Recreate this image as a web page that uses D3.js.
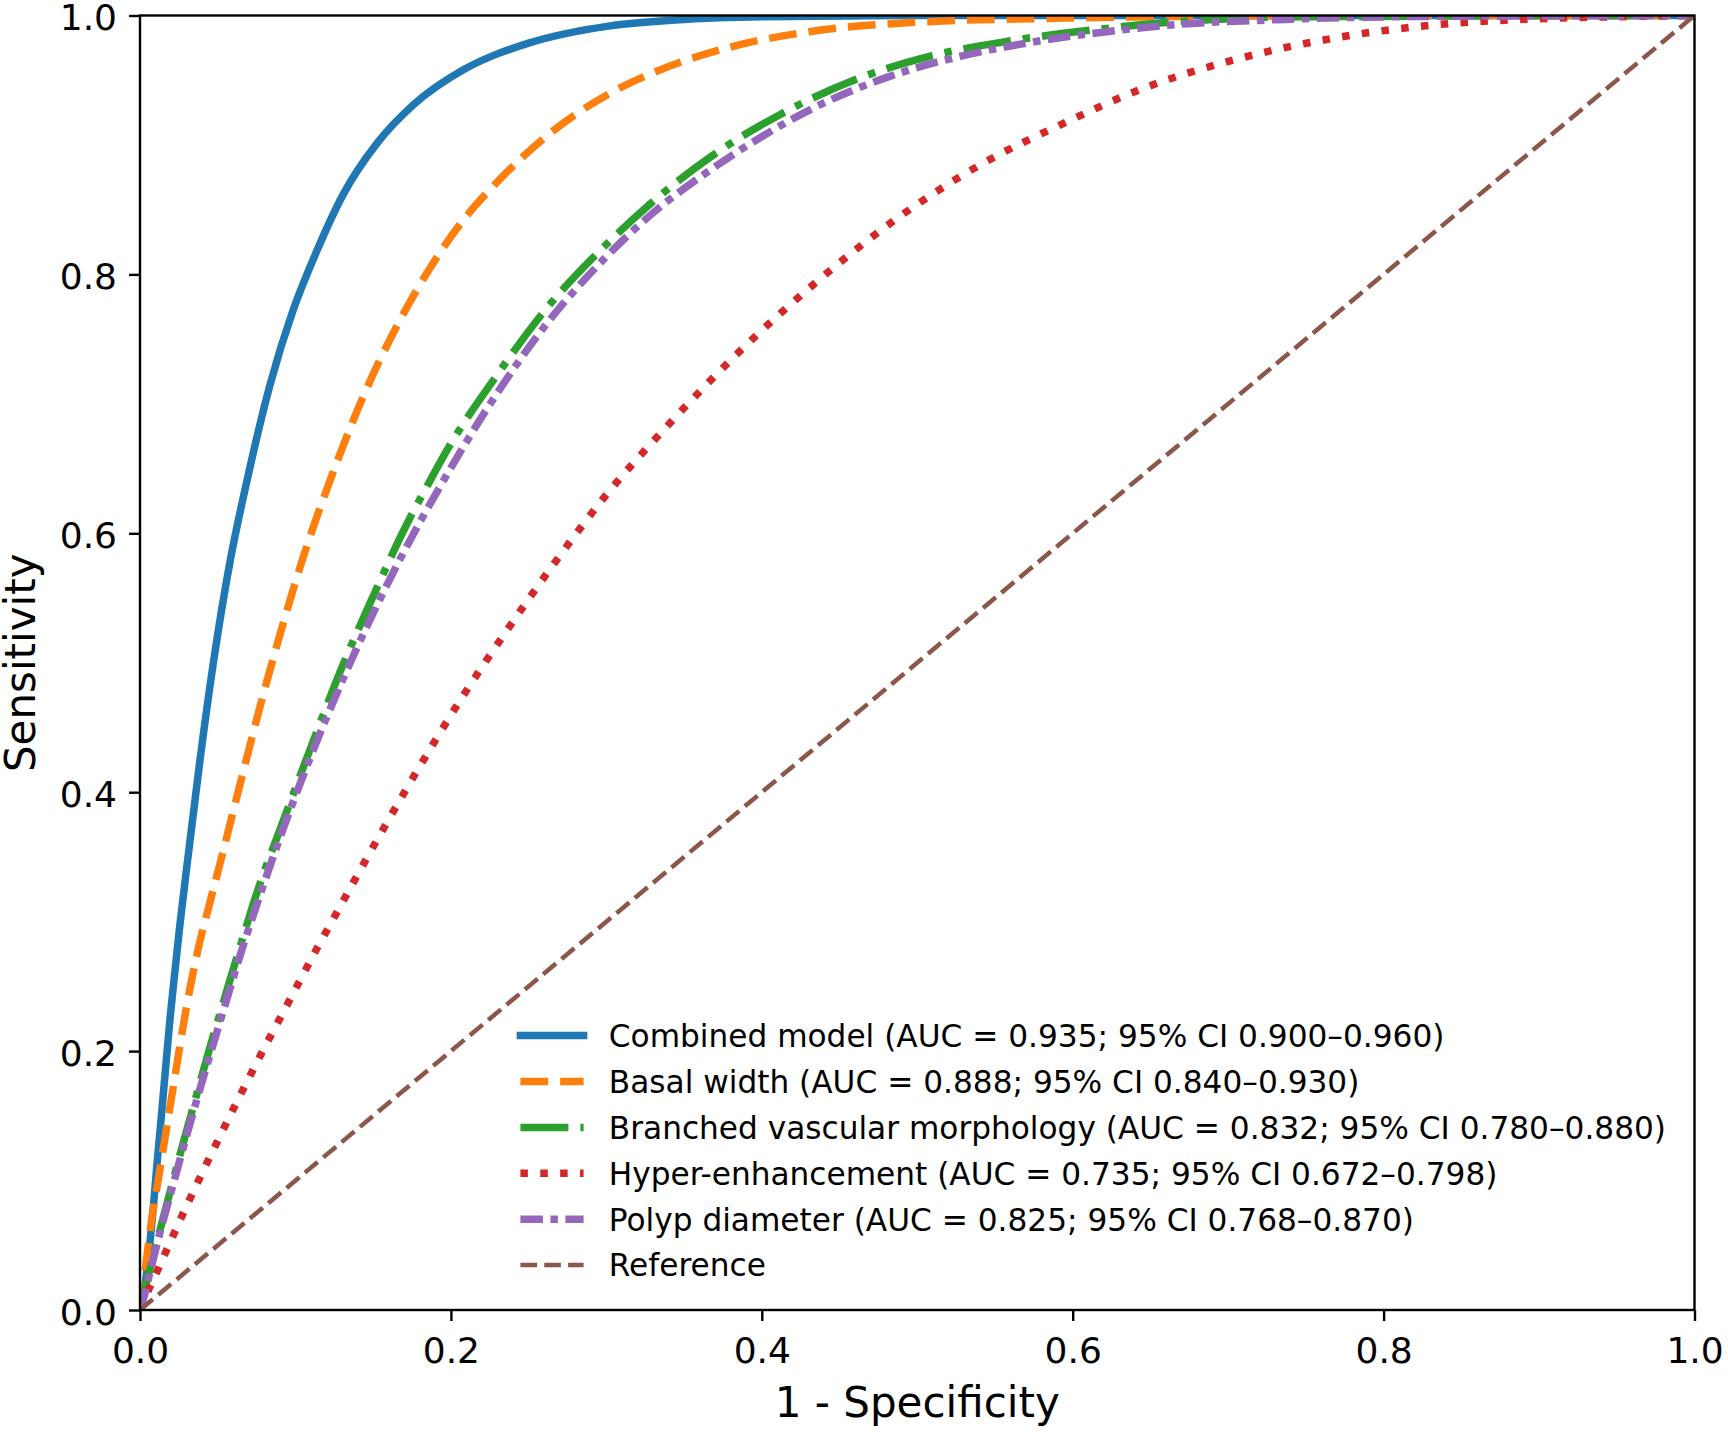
<!DOCTYPE html>
<html>
<head>
<meta charset="utf-8">
<script src="https://cdn.jsdelivr.net/npm/d3@7"></script>
<style>
  html, body { margin: 0; padding: 0; background: #ffffff; }
  svg { display: block; font-family: "DejaVu Sans", sans-serif; }
</style>
</head>
<body>
<svg id="chart" width="1728" height="1432"></svg>
<script>
// ---- Data (1 - specificity, sensitivity) ----
const fprCombined = [0, 0.0032, 0.0058, 0.0086, 0.0111, 0.0139, 0.0167, 0.0193, 0.0225, 0.0257, 0.0311, 0.0386, 0.0472, 0.0579, 0.0687, 0.0837, 0.0987, 0.1137, 0.1308, 0.1523, 0.1759, 0.208, 0.251, 0.3024, 0.35, 0.40, 0.50, 0.70, 1.0];
const tprCombined = [0, 0.019, 0.045, 0.080, 0.115, 0.152, 0.190, 0.225, 0.262, 0.298, 0.352, 0.425, 0.500, 0.578, 0.640, 0.715, 0.773, 0.818, 0.862, 0.901, 0.931, 0.958, 0.979, 0.992, 0.997, 0.999, 1.0, 1.0, 1.0];

const fprBasal = [0, 0.0043, 0.0075, 0.0118, 0.0161, 0.0204, 0.0247, 0.0296, 0.0365, 0.0461, 0.0515, 0.0633, 0.0761, 0.0901, 0.1051, 0.1223, 0.1437, 0.1652, 0.1866, 0.208, 0.2295, 0.2617, 0.3024, 0.3305, 0.381, 0.4337, 0.5026, 0.5946, 0.70, 0.85, 1.0];
const tprBasal = [0, 0.040, 0.070, 0.101, 0.133, 0.165, 0.197, 0.232, 0.274, 0.320, 0.345, 0.401, 0.461, 0.522, 0.582, 0.641, 0.706, 0.760, 0.805, 0.842, 0.871, 0.907, 0.940, 0.956, 0.976, 0.988, 0.995, 0.998, 0.9995, 1.0, 1.0];

const fprBranched = [0, 0.0021, 0.0064, 0.0129, 0.0193, 0.0257, 0.0322, 0.0375, 0.045, 0.0515, 0.0579, 0.0665, 0.074, 0.0922, 0.1094, 0.1287, 0.1502, 0.1716, 0.1845, 0.1974, 0.2295, 0.2617, 0.299, 0.3259, 0.3673, 0.411, 0.4614, 0.5097, 0.5603, 0.6178, 0.6545, 0.75, 1.0];
const tprBranched = [0, 0.011, 0.032, 0.062, 0.091, 0.120, 0.148, 0.171, 0.203, 0.229, 0.255, 0.289, 0.318, 0.378, 0.433, 0.493, 0.552, 0.607, 0.636, 0.664, 0.722, 0.774, 0.822, 0.852, 0.891, 0.923, 0.951, 0.969, 0.9805, 0.9895, 0.994, 0.999, 1.0];

const fprHyper = [0, 0.002, 0.0118, 0.0279, 0.0493, 0.0729, 0.0965, 0.1137, 0.1266, 0.1394, 0.1716, 0.206, 0.236, 0.266, 0.2981, 0.3408, 0.3857, 0.4339, 0.4844, 0.5396, 0.597, 0.6454, 0.7066, 0.772, 0.835, 0.9009, 0.971, 1.0];
const tprHyper = [0, 0.006, 0.032, 0.075, 0.129, 0.186, 0.240, 0.279, 0.307, 0.335, 0.403, 0.471, 0.525, 0.576, 0.627, 0.685, 0.7405, 0.7929, 0.841, 0.884, 0.9183, 0.9437, 0.9666, 0.9833, 0.993, 0.9975, 0.9995, 1.0];

const fprPolyp = [0, 0.0032, 0.0064, 0.0129, 0.0172, 0.0236, 0.0322, 0.0418, 0.0493, 0.0558, 0.0676, 0.0751, 0.088, 0.1073, 0.1308, 0.1609, 0.1802, 0.192, 0.2231, 0.2617, 0.299, 0.3305, 0.3649, 0.3994, 0.434, 0.4799, 0.526, 0.5718, 0.629, 0.6667, 0.737, 0.85, 1.0];
const tprPolyp = [0, 0.013, 0.029, 0.060, 0.079, 0.107, 0.144, 0.184, 0.214, 0.240, 0.286, 0.313, 0.358, 0.420, 0.488, 0.565, 0.609, 0.634, 0.696, 0.762, 0.8125, 0.848, 0.879, 0.906, 0.929, 0.952, 0.968, 0.979, 0.9885, 0.993, 0.997, 0.9995, 1.0];

const fprReference = [0, 1];
const tprReference = [0, 1];

const seriesNames = [
  "Combined model (AUC = 0.935; 95% CI 0.900\u20130.960)",
  "Basal width (AUC = 0.888; 95% CI 0.840\u20130.930)",
  "Branched vascular morphology (AUC = 0.832; 95% CI 0.780\u20130.880)",
  "Hyper-enhancement (AUC = 0.735; 95% CI 0.672\u20130.798)",
  "Polyp diameter (AUC = 0.825; 95% CI 0.768\u20130.870)",
  "Reference"
];
const tickValues = [0, 0.2, 0.4, 0.6, 0.8, 1.0];
const xLabel = "1 - Specificity";
const yLabel = "Sensitivity";

// ---- Styles ----
const colors = ["#1f77b4", "#ff7f0e", "#2ca02c", "#d62728", "#9467bd", "#8c564b"];
const dashes = [null, "27.75,12", "48,12,7.5,12", "7.5,12.375", "22.5,7.5,7.5,7.5", "16.65,7.2"];
const widths = [7.5, 7.5, 7.5, 7.5, 7.5, 4.5];

const series = [
  [fprCombined, tprCombined],
  [fprBasal, tprBasal],
  [fprBranched, tprBranched],
  [fprHyper, tprHyper],
  [fprPolyp, tprPolyp],
  [fprReference, tprReference]
].map(([xs, ys], i) => ({
  name: seriesNames[i], color: colors[i], dash: dashes[i], width: widths[i],
  points: xs.map((x, j) => ({ x: x, y: ys[j] }))
}));

// ---- Layout ----
const W = 1728, H = 1432;
const margin = { left: 140, right: 33.5, top: 15.5, bottom: 122 };
const plotW = W - margin.left - margin.right;
const plotH = H - margin.top - margin.bottom;

const svg = d3.select("#chart");
svg.append("rect").attr("width", W).attr("height", H).attr("fill", "#ffffff");

const g = svg.append("g").attr("transform", `translate(${margin.left},${margin.top})`);

const x = d3.scaleLinear().domain([0, 1]).range([0, plotW]);
const y = d3.scaleLinear().domain([0, 1]).range([plotH, 0]);

svg.append("defs").append("clipPath").attr("id", "plotClip")
  .append("rect").attr("x", 0).attr("y", 0).attr("width", plotW).attr("height", plotH);

const line = d3.line().x(d => x(d.x)).y(d => y(d.y)).curve(d3.curveMonotoneX);

const linesG = g.append("g").attr("clip-path", "url(#plotClip)");
series.forEach(s => {
  linesG.append("path")
    .datum(s.points)
    .attr("d", line)
    .attr("fill", "none")
    .attr("stroke", s.color)
    .attr("stroke-width", s.width)
    .attr("stroke-dasharray", s.dash)
    .attr("stroke-linecap", s.dash ? "butt" : "square")
    .attr("stroke-linejoin", "round");
});

// ---- Axes ----
const fmt = d3.format(".1f");
const xAxis = g.append("g").attr("transform", `translate(0,${plotH})`)
  .call(d3.axisBottom(x).tickValues(tickValues).tickFormat(fmt).tickSize(11).tickPadding(16).tickSizeOuter(0));
const yAxis = g.append("g")
  .call(d3.axisLeft(y).tickValues(tickValues).tickFormat(fmt).tickSize(11).tickPadding(12).tickSizeOuter(0));
[xAxis, yAxis].forEach(a => {
  a.select(".domain").remove();
  a.selectAll(".tick line").attr("stroke", "#000").attr("stroke-width", 2.4);
  a.selectAll(".tick text").attr("fill", "#000")
    .style("font-family", '"DejaVu Sans", sans-serif').style("font-size", "36px");
});
yAxis.selectAll(".tick text").attr("dy", "0.4em");

// frame (spines on top of lines)
g.append("rect").attr("x", 0).attr("y", 0).attr("width", plotW).attr("height", plotH)
  .attr("fill", "none").attr("stroke", "#000").attr("stroke-width", 2.4);

// axis labels
svg.append("text")
  .attr("x", margin.left + plotW / 2).attr("y", 1417)
  .attr("text-anchor", "middle").style("font-size", "42px").attr("fill", "#000")
  .text(xLabel);
svg.append("text")
  .attr("transform", `translate(34.5,${margin.top + plotH / 2}) rotate(-90)`)
  .attr("text-anchor", "middle").style("font-size", "42px").attr("fill", "#000")
  .text(yLabel);

// ---- Legend (no frame, lower right) ----
const legend = svg.append("g");
const legX0 = 520.4, legX1 = 583.6, legTextX = 608.8, legY0 = 1035.6, legDy = 45.9;
series.forEach((s, i) => {
  const yy = legY0 + i * legDy;
  legend.append("line")
    .attr("x1", legX0).attr("x2", legX1).attr("y1", yy).attr("y2", yy)
    .attr("stroke", s.color).attr("stroke-width", s.width)
    .attr("stroke-dasharray", s.dash)
    .attr("stroke-linecap", s.dash ? "butt" : "square");
  legend.append("text")
    .attr("x", legTextX).attr("y", yy + 11.3)
    .style("font-size", "31.2px").attr("fill", "#000")
    .text(s.name);
});
</script>
</body>
</html>
